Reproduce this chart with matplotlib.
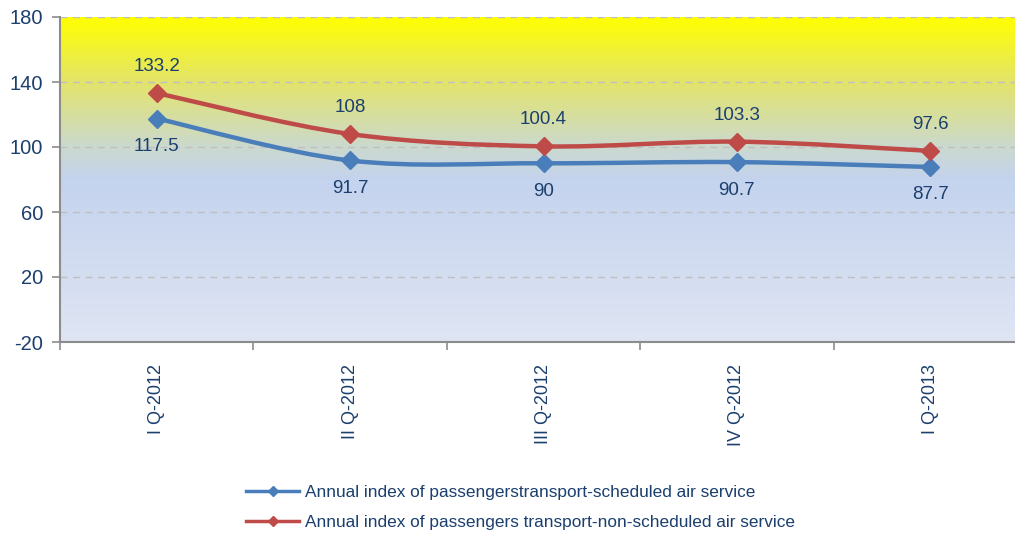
import matplotlib
matplotlib.use("Agg")
import matplotlib.pyplot as plt
import numpy as np
from matplotlib.colors import LinearSegmentedColormap
from matplotlib.path import Path
from matplotlib.patches import PathPatch
from matplotlib.lines import Line2D

categories = ["I Q-2012", "II Q-2012", "III Q-2012", "IV Q-2012", "I Q-2013"]
scheduled = [117.5, 91.7, 90.0, 90.7, 87.7]
non_scheduled = [133.2, 108.0, 100.4, 103.3, 97.6]
scheduled_labels = ["117.5", "91.7", "90", "90.7", "87.7"]
non_scheduled_labels = ["133.2", "108", "100.4", "103.3", "97.6"]
y_ticks = [-20, 20, 60, 100, 140, 180]

BLUE = "#4A7EBB"
RED = "#BE4B48"
NAVY = "#1B3F6E"

plt.rcParams["font.family"] = ["Liberation Sans", "DejaVu Sans"]
plt.rcParams["axes.unicode_minus"] = False


def smooth_path(xs, ys):
    # Catmull-Rom style bezier, close to what spreadsheet "smoothed line" does
    pts = np.column_stack([xs, ys]).astype(float)
    n = len(pts)
    verts = [pts[0]]
    codes = [Path.MOVETO]
    for i in range(n - 1):
        p0 = pts[i - 1] if i > 0 else pts[i]
        p1 = pts[i]
        p2 = pts[i + 1]
        p3 = pts[i + 2] if i + 2 < n else pts[i + 1]
        c1 = p1 + (p2 - p0) / 6.0
        c2 = p2 - (p3 - p1) / 6.0
        verts += [c1, c2, p2]
        codes += [Path.CURVE4] * 3
    return Path(verts, codes)


fig = plt.figure(figsize=(10.15, 5.34), dpi=100)
ax = fig.add_axes([60 / 1015, 1 - 342 / 534, 967 / 1015, 325 / 534])

# background gradient (top yellow -> blue at the bottom)
stops = [
    (0.0, "#FFFF00"),
    (0.20, "#E3E46C"),
    (0.40, "#CBD9CF"),
    (0.50, "#C4D3EE"),
    (1.0, "#DFE5F3"),
]
cmap = LinearSegmentedColormap.from_list("bg", stops)
grad = np.linspace(0, 1, 400).reshape(-1, 1)
ax.imshow(grad, cmap=cmap, aspect="auto", extent=(0, 1, 0, 1),
          transform=ax.transAxes, zorder=0, interpolation="bilinear")

x = np.arange(len(categories))
ax.set_xlim(-0.5, len(categories) - 0.5)
ax.set_ylim(-20, 180)

for yv in y_ticks[1:]:
    ax.axhline(yv, color="#BFBFBF", lw=1.0, ls=(0, (5, 4)), zorder=1)

for vals, color in ((scheduled, BLUE), (non_scheduled, RED)):
    ax.add_patch(PathPatch(smooth_path(x, vals), fill=False, edgecolor=color,
                           lw=3.2, capstyle="round", joinstyle="round", zorder=3))
    ax.plot(x, vals, ls="none", marker="D", ms=9, color=color, zorder=4)

for xi, v, lab in zip(x, non_scheduled, non_scheduled_labels):
    ax.annotate(lab, (xi, v), xytext=(0, 13), textcoords="offset points",
                ha="center", va="bottom", fontsize=13.5, color=NAVY, zorder=5)
for xi, v, lab in zip(x, scheduled, scheduled_labels):
    ax.annotate(lab, (xi, v), xytext=(0, -14), textcoords="offset points",
                ha="center", va="top", fontsize=13.5, color=NAVY, zorder=5)

ax.set_yticks(y_ticks)
ax.tick_params(axis="y", length=6, width=1.2, color="#8C8C8C", labelsize=14.5,
               labelcolor=NAVY, pad=6)

# category labels at centers, tick marks at boundaries
ax.set_xticks(np.arange(len(categories) + 1) - 0.5)
ax.set_xticklabels([])
ax.set_xticks(x, minor=True)
ax.set_xticklabels(categories, minor=True, rotation=90, fontsize=13, color=NAVY)
ax.tick_params(axis="x", which="major", length=6, width=1.2, color="#8C8C8C")
ax.tick_params(axis="x", which="minor", length=0, pad=16)

for side in ("top", "right"):
    ax.spines[side].set_visible(False)
for side in ("left", "bottom"):
    ax.spines[side].set_color("#8C8C8C")
    ax.spines[side].set_linewidth(1.5)

handles = [
    Line2D([], [], color=BLUE, lw=2.5, marker="D", ms=5),
    Line2D([], [], color=RED, lw=2.5, marker="D", ms=5),
]
fig.legend(handles,
           ["Annual index of passengerstransport-scheduled air service",
            "Annual index of passengers transport-non-scheduled air service"],
           loc="center", bbox_to_anchor=(0.513, 0.050), frameon=False,
           fontsize=12.4, labelcolor=NAVY, handlelength=3.1, handletextpad=0.35,
           labelspacing=0.85)

fig.savefig("out.png", dpi=100)
